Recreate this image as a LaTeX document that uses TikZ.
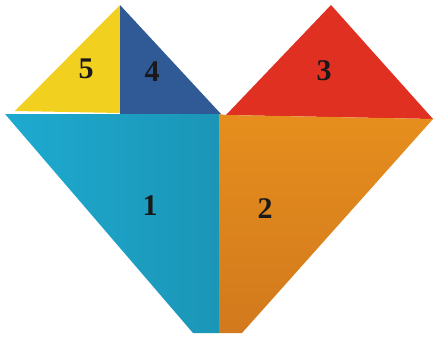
\documentclass[tikz,border=0pt]{standalone}
\usepackage{fontspec}
\setmainfont{Liberation Serif}
\begin{document}
\begin{tikzpicture}[x=1pt,y=-1pt,
  lbl/.style={font=\bfseries\fontsize{30}{32}\selectfont, text=black!90, inner sep=0pt}]
\useasboundingbox (0,0) rectangle (436,337);
\definecolor{cyanp}{RGB}{30,170,208}
\definecolor{orangep}{RGB}{228,132,32}
\definecolor{redp}{RGB}{224,48,34}
\definecolor{yellowp}{RGB}{242,208,32}
\definecolor{bluep}{RGB}{48,90,150}
% piece 5
\fill[yellowp] (15,111) -- (120,5) -- (120,113) -- cycle;
% piece 4
\fill[bluep] (120,5) -- (221,114) -- (120,114) -- cycle;
% piece 3
\fill[redp] (226,115) -- (331,5) -- (433,119) -- cycle;
% piece 1
\shade[left color=cyanp, right color=cyanp!88!black] (5,114) -- (219,114) -- (219,333) -- (193,333) -- cycle;
% piece 2
\shade[top color=orangep!92!yellow, bottom color=orangep!92!black] (219,114) -- (226,115) -- (433,119) -- (242,333) -- (219,333) -- cycle;
\node[lbl] (n5) at (86,69) {5};
\node[lbl] (n4) at (152,72) {4};
\node[lbl] (n3) at (324,71) {3};
\node[lbl] (n1) at (150,206) {1};
\node[lbl] (n2) at (265,209) {2};
\end{tikzpicture}
\end{document}
